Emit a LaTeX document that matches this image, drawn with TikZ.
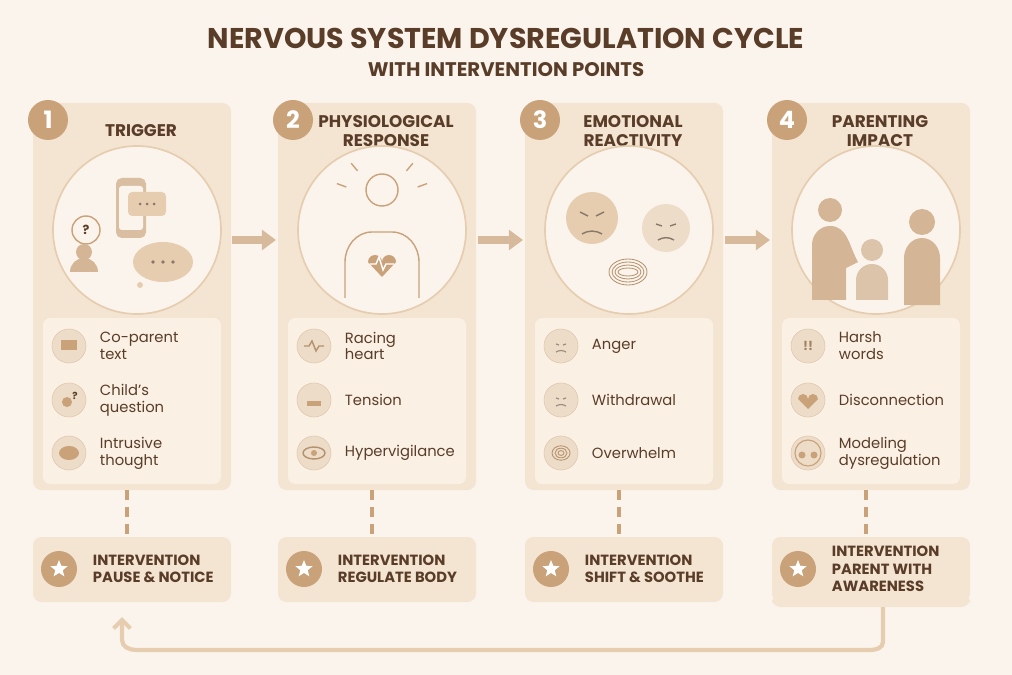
\documentclass[tikz,border=0pt]{standalone}
\usepackage{fontspec}
\setmainfont{Poppins}
\usetikzlibrary{arrows.meta,shapes.geometric,positioning}
\definecolor{bg}{HTML}{FBF4EC}
\definecolor{panel}{HTML}{F4E4D2}
\definecolor{inner}{HTML}{FAF0E4}
\definecolor{tan}{HTML}{C9A27A}
\definecolor{lighttan}{HTML}{E6CDB0}
\definecolor{ink}{HTML}{5A3D28}
\colorlet{silc}{tan!80}
\newlength{\unitpx}\setlength{\unitpx}{0.025cm}
\tikzset{
  panel/.style={fill=panel,rounded corners=6pt,draw=none},
  listbox/.style={fill=inner,rounded corners=5pt,draw=none},
  num/.style={circle,fill=tan,text=white,minimum size=40\unitpx,font=\bfseries\fontsize{17}{17}\selectfont,inner sep=0},
  ptitle/.style={text=ink,font=\bfseries\fontsize{12}{14}\selectfont,align=center},
  item/.style={text=ink,font=\fontsize{10.5}{12}\selectfont,align=left,anchor=west},
  icon/.style={circle,fill=lighttan!70,draw=tan!60,minimum size=34\unitpx,inner sep=0},
  bigcirc/.style={circle,fill=bg,draw=lighttan,line width=1.2pt,minimum size=168\unitpx},
  flow/.style={-{Triangle[length=10pt,width=14pt]},line width=6pt,draw=tan!75},
  dashline/.style={draw=tan,line width=2.5pt,dash pattern=on 7pt off 5pt},
  ret/.style={draw=lighttan,line width=3pt,-{Straight Barb[length=6pt,width=12pt]}},
  sil/.style={fill=silc}
}
\begin{document}
\begin{tikzpicture}[x=0.025cm,y=-0.025cm]
\fill[bg] (0,0) rectangle (1012,675);
\useasboundingbox (0,0) rectangle (1012,675);

\node[text=ink,font=\bfseries\fontsize{20.3}{22}\selectfont] (title) at (506,38) {NERVOUS SYSTEM DYSREGULATION CYCLE};
\node[text=ink,font=\bfseries\fontsize{14}{16}\selectfont] (subtitle) at (506,70) {WITH INTERVENTION POINTS};

% panels
\foreach \x/\n/\t/\ix/\jx/\kx/\iv [count=\i] in {
  33/1/TRIGGER/Co-parent\\text/Child's\\question/Intrusive\\thought/PAUSE \& NOTICE,
  278/2/PHYSIOLOGICAL\\RESPONSE/Racing\\heart/Tension/Hypervigilance/REGULATE BODY,
  525/3/EMOTIONAL\\REACTIVITY/Anger/Withdrawal/Overwhelm/SHIFT \& SOOTHE,
  772/4/PARENTING\\IMPACT/Harsh\\words/Disconnection/Modeling\\dysregulation/PARENT WITH\\AWARENESS}
{
  \fill[panel] (\x,103) rectangle (\x+198,490);
  \fill[listbox] (\x+10,318) rectangle (\x+188,484);
  \node[num] (n\i) at (\x+15,120) {\n};
  \node[ptitle] (t\i) at (\x+108,131) {\t};
  \node[bigcirc] (c\i) at (\x+104,230) {};
  \node[icon] (a\i) at (\x+36,346) {};
  \node[icon] (b\i) at (\x+36,400) {};
  \node[icon] (d\i) at (\x+36,453) {};
  \node[item] (ia\i) at (\x+62,346) {\ix};
  \node[item] (ib\i) at (\x+62,400) {\jx};
  \node[item] (id\i) at (\x+62,453) {\kx};
  \coordinate (p\i) at (\x+94,490);
  \coordinate (q\i) at (\x+94,537);
  \draw[dashline] (p\i) -- (q\i);
  \fill[panel] (\x,537) rectangle (\x+198,602);
  \node[circle,fill=tan,minimum size=36\unitpx,inner sep=0] (s\i) at (\x+26,569) {};
  \node[star,star points=5,star point ratio=2.3,fill=white,minimum size=18\unitpx,inner sep=0] at (s\i) {};
  \node[anchor=west,text=ink,font=\bfseries\fontsize{10.5}{12.5}\selectfont,align=left] (v\i) at (\x+55,569) {INTERVENTION\\\iv};
}
\fill[panel] (772,595) rectangle (970,607);

% flow arrows
\draw[flow] (232,240) -- (276,240);
\draw[flow] (478,240) -- (523,240);
\draw[flow] (725,240) -- (770,240);

% return arrow
\coordinate (r1) at (883,607);
\coordinate (r2) at (122,617);
\draw[ret] (r1) -- (883,642) to[out=-90,in=0] (870,650) -- (136,650) to[out=180,in=-90] (122,640) -- (r2);

% scene 1: phone, bubbles, person
\fill[tan!70,rounded corners=4pt] (116,178) rectangle (146,238);
\fill[bg,rounded corners=2pt] (119,186) rectangle (143,230);
\fill[lighttan,rounded corners=3pt] (128,192) rectangle (166,216);
\foreach \dx in {140,147,154} \fill[ink!70] (\dx,204) circle (1.5);
\fill[lighttan] (163,262) ellipse (30 and 20);
\fill[lighttan] (140,285) circle (3);
\foreach \dx in {153,163,173} \fill[ink!70] (\dx,262) circle (1.8);
\draw[tan,line width=1pt,fill=bg] (86,230) circle (14);
\node[text=ink,font=\bfseries\small] at (86,230) {?};
\fill[sil] (84,252) circle (8);
\fill[sil] (70,272) arc (180:360:14) -- cycle;
% scene 2: torso with heart
\draw[tan,line width=1pt] (382,190) circle (16);
\draw[tan,line width=1pt] (345,298) -- (345,262) to[out=90,in=180] (372,232) -- (392,232) to[out=0,in=90] (419,262) -- (419,298);
\fill[tan] (382,277) -- (368,262) arc (180:360:7) arc (180:360:7) -- cycle;
\draw[white,line width=1pt] (370,264) -- (376,264) -- (379,257) -- (383,270) -- (386,264) -- (394,264);
\foreach \a in {20,50,130,160} \draw[tan,line width=1pt] (382,200)+(\a:-38) -- +(\a:-48);
% scene 3: faces and knot
\fill[lighttan] (592,218) circle (26);
\fill[lighttan!70] (666,228) circle (24);
\draw[ink!70,line width=1pt] (580,212) -- (588,216) (604,212) -- (596,216) (582,234) to[bend left] (602,234);
\draw[ink!70,line width=1pt] (656,224) -- (662,226) (676,224) -- (670,226) (658,240) to[bend left] (674,240);
\foreach \r in {4,7,10,13} \draw[tan!90!black,line width=0.6pt] (628,272) ellipse [x radius=\r+6, y radius=\r];
% scene 4: figures
\fill[sil] (830,210) circle (12);
\fill[sil] (812,300) -- (812,245) to[out=90,in=180] (830,226) to[out=0,in=120] (858,262) -- (846,268) -- (846,300) -- cycle;
\fill[silc!80] (872,250) circle (11);
\fill[silc!80] (856,300) -- (856,280) arc (180:360:16) -- (888,300) -- cycle;
\fill[sil] (922,222) circle (13);
\fill[sil] (904,305) -- (904,258) to[out=90,in=180] (922,238) to[out=0,in=90] (940,258) -- (940,305) -- cycle;

% small icons
\fill[tan] (a1.center) ++(-8,-6) rectangle ++(16,10);
\fill[tan] (b1.center) ++(-2,2) circle (5);
\node[text=ink,font=\bfseries\scriptsize] at ([xshift=6\unitpx,yshift=4\unitpx]b1) {?};
\fill[tan] (d1.center) ellipse (10 and 7);
\draw[tan!90!black,line width=1pt] (a2.center) ++(-10,0) -- ++(5,0) -- ++(3,-5) -- ++(4,10) -- ++(3,-5) -- ++(5,0);
\fill[tan] (b2.center) ++(-7,6) rectangle ++(14,-5);
\draw[tan!90!black,line width=1pt] (d2.center) ellipse (11 and 6);
\fill[tan] (d2.center) circle (3);
\foreach \c in {a3,b3} {\draw[ink!60,line width=0.8pt] (\c.center) ++(-5,-2) -- ++(3,1) ++(4,0) -- ++(3,-1) (\c.center) ++(-5,6) to[bend left] ++(10,0);}
\foreach \r in {3,6,9} \draw[tan!90!black,line width=0.6pt] (d3.center) ellipse [x radius=\r, y radius=0.8*\r];
\node[text=tan!80!black,font=\bfseries\small] at (a4) {!!};
\fill[tan] (b4.center) ++(0,9) -- ++(-10,-10) arc (180:360:5) arc (180:360:5) -- cycle;
\fill[tan] (d4.center) ++(-6,2) circle (3.5) ++(12,0) circle (3.5);
\draw[tan,line width=0.8pt] (d4.center) circle (13);
\end{tikzpicture}
\end{document}
